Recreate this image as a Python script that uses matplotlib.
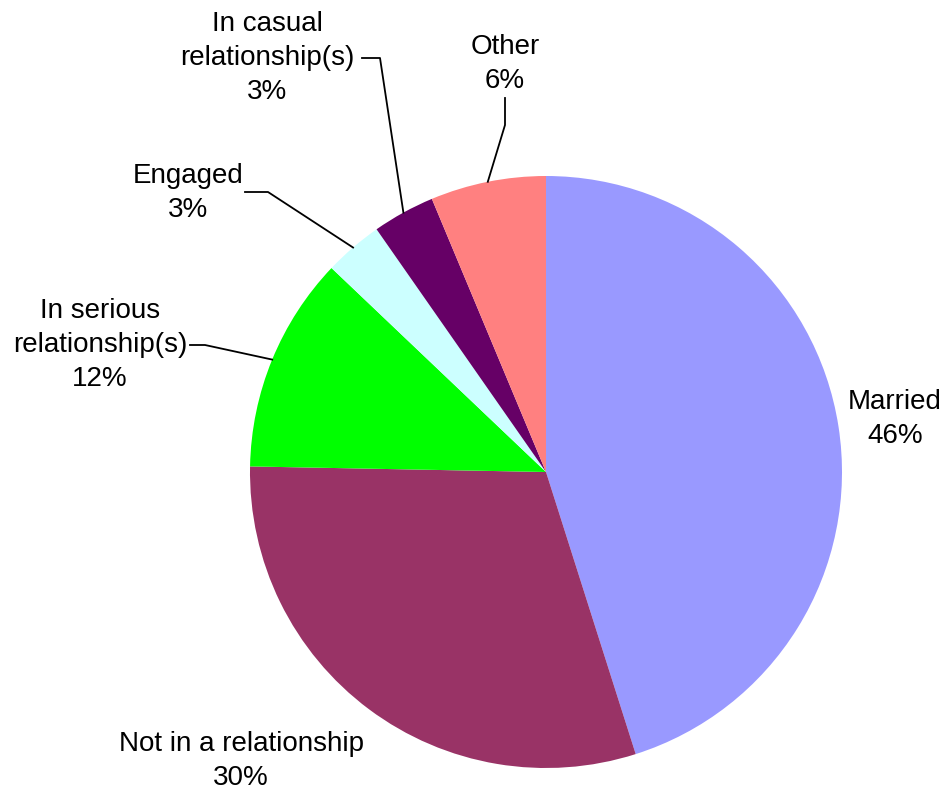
import numpy as np
import matplotlib
matplotlib.use('Agg')
import matplotlib.pyplot as plt

plt.rcParams['font.family'] = ['Liberation Sans', 'DejaVu Sans']

# Data
categories = ['Married', 'Not in a relationship', 'In serious\nrelationship(s)',
              'Engaged', 'In casual\nrelationship(s)', 'Other']
shares = [45.1, 30.2, 11.8, 3.2, 3.4, 6.3]
pct_labels = ['46%', '30%', '12%', '3%', '3%', '6%']
colors = ['#9999FF', '#993366', '#00FF00', '#CCFFFF', '#660066', '#FF8080']

W, H = 946, 794
cx, cy, r = 546, H - 472, 296

fig = plt.figure(figsize=(W / 100, H / 100), dpi=100)
ax = fig.add_axes([0, 0, 1, 1])
wedges, _ = ax.pie(shares, colors=colors, startangle=90, counterclock=False,
                   center=(cx, cy), radius=r, frame=True,
                   wedgeprops=dict(linewidth=0))
ax.set_xlim(0, W)
ax.set_ylim(0, H)
ax.set_aspect('equal')
ax.axis('off')

# label positions (x, y from top) and leader elbow points
label_pos = [(895, 419), (241, 761), (100, 345), (188, 193), (267, 58), (505, 64)]
elbows = [None, None,
          [(190, 345), (205, 345)],
          [(245, 192), (268, 192)],
          [(362, 58), (380, 58)],
          [(505, 98), (505, 125)]]

for i, w in enumerate(wedges):
    x, y = label_pos[i]
    ax.text(x, H - y, f'{categories[i]}\n{pct_labels[i]}', ha='center', va='center',
            fontsize=20, linespacing=1.42, color='black')
    if elbows[i] is not None:
        mid = np.deg2rad((w.theta1 + w.theta2) / 2)
        ex, ey = cx + r * np.cos(mid), cy + r * np.sin(mid)
        xs = [p[0] for p in elbows[i]] + [ex]
        ys = [H - p[1] for p in elbows[i]] + [ey]
        ax.plot(xs, ys, color='black', linewidth=1.3)

fig.savefig('out.png', dpi=100, facecolor='white')
